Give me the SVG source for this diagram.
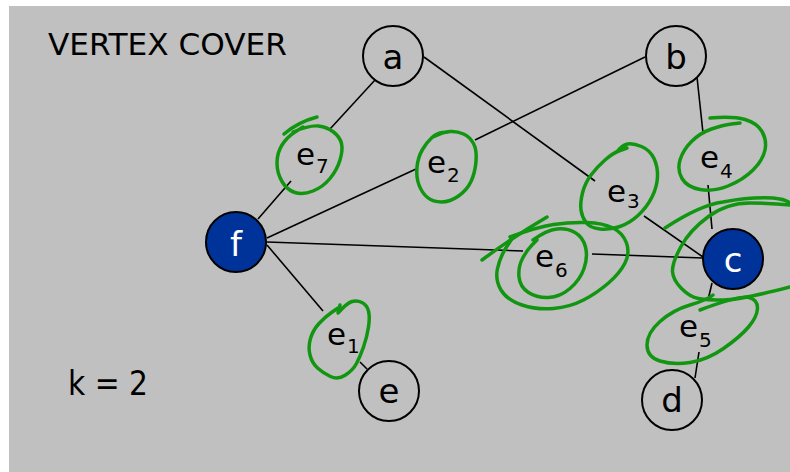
<svg xmlns="http://www.w3.org/2000/svg" width="790" height="472" viewBox="0 0 790 472">
<style>
.bg{fill:#c0c0c0}
.edge{stroke:#000;stroke-width:1.6;fill:none}
.node{fill:none;stroke:#000;stroke-width:2}
.sel{fill:#003399;stroke:#000;stroke-width:2}
.t{font-family:"DejaVu Sans","Liberation Sans",sans-serif;fill:#000}
.nl{font-size:34px;text-anchor:middle}
.w{fill:#fff}
.lb{font-size:31px}
.sb{font-size:20px}
.g{fill:none;stroke:#129612;stroke-width:3.5;stroke-linecap:round;stroke-linejoin:round}
</style>
<rect x="0" y="0" width="790" height="472" fill="#fff"/>
<rect class="bg" x="9" y="6" width="781" height="466"/>
<text class="t" x="48" y="55" font-size="30" textLength="239" lengthAdjust="spacingAndGlyphs">VERTEX COVER</text>
<text class="t" x="68" y="395" font-size="34" textLength="80" lengthAdjust="spacingAndGlyphs">k = 2</text>
<g id="connectors">
<line class="edge" x1="375" y1="80" x2="330" y2="129"/>
<line class="edge" x1="291" y1="181" x2="258" y2="219"/>
<line class="edge" x1="267" y1="238" x2="416" y2="169"/>
<line class="edge" x1="475" y1="140" x2="645" y2="57"/>
<line class="edge" x1="424" y1="57" x2="595" y2="181"/>
<line class="edge" x1="644" y1="216" x2="703" y2="257"/>
<line class="edge" x1="697" y1="77" x2="703" y2="133"/>
<line class="edge" x1="708" y1="185" x2="712" y2="229"/>
<line class="edge" x1="267" y1="242" x2="523" y2="251"/>
<line class="edge" x1="592" y1="254" x2="703" y2="258"/>
<line class="edge" x1="712" y1="283" x2="708" y2="300"/>
<line class="edge" x1="699" y1="352" x2="695" y2="378"/>
<line class="edge" x1="267" y1="245" x2="323" y2="311"/>
<line class="edge" x1="360" y1="362" x2="367" y2="369"/>
</g>
<g id="node-a"><circle class="node" cx="393" cy="56" r="30"/><text class="t nl" x="393" y="69">a</text></g>
<g id="node-b"><circle class="node" cx="676" cy="56" r="30"/><text class="t nl" x="676" y="69">b</text></g>
<g id="node-f"><circle class="sel" cx="236" cy="242" r="30"/><text class="t nl w" x="236" y="256">f</text></g>
<g id="node-c"><circle class="sel" cx="733" cy="259" r="30"/><text class="t nl w" x="733" y="272">c</text></g>
<g id="node-e"><circle class="node" cx="389" cy="391" r="30"/><text class="t nl" x="389" y="403">e</text></g>
<g id="node-d"><circle class="node" cx="672" cy="400" r="30"/><text class="t nl" x="672" y="412">d</text></g>
<g id="labels">
<text class="t lb" x="296" y="165">e</text><text class="t sb" x="316" y="173">7</text>
<text class="t lb" x="427" y="173">e</text><text class="t sb" x="447" y="182">2</text>
<text class="t lb" x="607" y="202">e</text><text class="t sb" x="627" y="208">3</text>
<text class="t lb" x="700" y="168">e</text><text class="t sb" x="720" y="178">4</text>
<text class="t lb" x="535" y="267">e</text><text class="t sb" x="555" y="277">6</text>
<text class="t lb" x="679" y="337">e</text><text class="t sb" x="699" y="347">5</text>
<text class="t lb" x="327" y="345">e</text><text class="t sb" x="347" y="353">1</text>
</g>
<g id="marks">
<path class="g" d="M284,134 Q298,122 317,117"/>
<path class="g" d="M293,132 Q310,125 318.5,126 Q327,127 333.5,132 Q340,137 341.5,143.5 Q343,150 340,160 Q337,170 330,178.5 Q323,187 313,191 Q303,195 295,192.5 Q287,190 282,181.5 Q277,173 277,163 Q277,153 282,145 Q287,137 295,132 L303,127"/>
<path class="g" d="M433,137 Q443,132 450,131.5 Q457,131 463.5,134 Q470,137 473.5,143.5 Q477,150 476,161.5 Q475,173 471,181.5 Q467,190 458.5,196 Q450,202 441.5,202 Q433,202 427.5,197.5 Q422,193 419,185 Q416,177 417,167 Q418,157 422.5,149.5 Q427,142 432,137.5 Q437,133 442.5,132.5 L448,132"/>
<path class="g" d="M617,152 Q622,145 627.5,144 Q633,143 641.5,146.5 Q650,150 654,158.5 Q658,167 657.5,177 Q657,187 652,197 Q647,207 638.5,215 Q630,223 620,226.5 Q610,230 600,229 Q590,228 586,222.5 Q582,217 581,210 Q580,203 582.5,193 Q585,183 591,175 Q597,167 605,160 Q613,153 620,150.5 L627,148"/>
<path class="g" d="M710,118 Q733,116 745,119.5 Q757,123 762,131.5 Q767,140 765,150 Q763,160 753,170 Q743,180 728,186 Q713,192 700,189.5 Q687,187 682,178.5 Q677,170 680,160 Q683,150 691.5,141.5 Q700,133 711.5,129 Q723,125 731.5,124 L740,123"/>
<path class="g" d="M482,260 Q513,237 547,217"/>
<path class="g" d="M510,237 Q537,227 553.5,224.5 Q570,222 586.5,222.5 Q603,223 613,228 Q623,233 626.5,243 Q630,253 625,263 Q620,273 608.5,283 Q597,293 583.5,300 Q570,307 553.5,308.5 Q537,310 522,305 Q507,300 501,290 Q495,280 497.5,268.5 Q500,257 506.5,247 L513,237"/>
<path class="g" d="M533,240 Q547,230 557,229 Q567,228 575,232.5 Q583,237 585.5,247 Q588,257 584,268.5 Q580,280 570,288.5 Q560,297 548.5,297.5 Q537,298 528.5,292.5 Q520,287 519,277 Q518,267 522.5,258.5 Q527,250 532,245 L537,240"/>
<path class="g" d="M665,228 Q700,205 723,202 Q750,197 773,198 Q785,199 790,203"/>
<path class="g" d="M790,205 Q773,203 750,203 Q727,203 708.5,216.5 Q690,230 681,246.5 Q672,263 672.5,271.5 Q673,280 681.5,288.5 Q690,297 698.5,298.5 Q707,300 723.5,300 Q740,300 790,287"/>
<path class="g" d="M700,310 Q740,295 749,297.5 Q758,300 757.5,308.5 Q757,317 748.5,327 Q740,337 723.5,348.5 Q707,360 690,362.5 Q673,365 660,361 Q647,357 647,345 Q647,333 660,321.5 Q673,310 690,305 Q707,300 713,295"/>
<path class="g" d="M340,305 L338,313 Q347,303 352,301.5 Q357,300 362,302.5 Q367,305 368.5,311 Q370,317 368.5,327 Q367,337 363.5,347 Q360,357 356.5,363.5 Q353,370 345.5,375 Q338,380 330.5,376.5 Q323,373 317.5,368 Q312,363 310,355 Q308,347 310.5,338.5 Q313,330 319,323.5 Q325,317 331.5,312.5 L338,308"/>
</g>
</svg>
